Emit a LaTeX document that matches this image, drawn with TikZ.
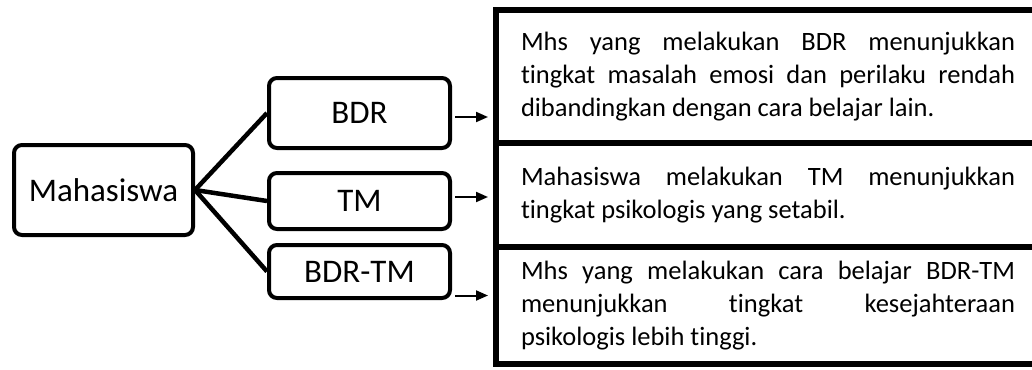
\documentclass[tikz,border=0pt]{standalone}
\usepackage{fontspec}
\setmainfont{Carlito}[Ligatures=NoCommon]
\usetikzlibrary{arrows.meta,positioning}
\tolerance=10000
\hyphenpenalty=10000
\exhyphenpenalty=10000

\begin{document}
\begin{tikzpicture}[x=1pt,y=-1pt,
  box/.style={draw,line width=4pt,rounded corners=8pt,minimum width=181pt,inner sep=0pt,font=\fontsize{33}{38}\selectfont},
  desc/.style={draw,line width=5.5pt,anchor=north west,outer sep=0pt,inner xsep=25pt,inner ysep=0pt,text width=494pt,align=justify,
    font=\fontsize{26.5}{33}\selectfont},
  link/.style={line width=4.5pt},
  arr/.style={-{Triangle[length=12pt,width=10pt]},line width=2pt,shorten >=8pt,shorten <=3pt}]
  \clip (0,0) rectangle (1032,369);
  % left side
  \node[box,minimum width=179pt,minimum height=90pt] (mhs) at (103.5,190) {Mahasiswa};
  \node[box,minimum height=70pt] (bdr) at (359.5,113) {BDR};
  \node[box,minimum height=56pt] (tm) at (359.5,201) {TM};
  \node[box,minimum height=53pt] (bdrtm) at (359.5,271.5) {BDR-TM};
  \draw[link] (mhs.east) -- (bdr.west);
  \draw[link] (mhs.east) -- (tm.west);
  \draw[link] (mhs.east) -- (bdrtm.west);
  % right side
  \node[desc,minimum height=133pt] (r1) at (496,10) {Mhs yang melakukan BDR menunjukkan\linebreak tingkat masalah emosi dan perilaku rendah\linebreak dibandingkan dengan cara belajar lain.};
  \node[desc,minimum height=104pt,below=0pt of r1] (r2) {Mahasiswa melakukan TM menunjukkan\linebreak tingkat psikologis yang setabil.};
  \node[desc,minimum height=117pt,below=0pt of r2] (r3) {Mhs yang melakukan cara belajar BDR-TM\linebreak menunjukkan tingkat kesejahteraan\linebreak psikologis lebih tinggi.};
  % arrows
  \coordinate (a1) at ([yshift=-4pt]bdr.east);
  \coordinate (a2) at ([yshift=4pt]tm.east);
  \coordinate (a3) at ([yshift=-24pt]bdrtm.east);
  \draw[arr] (a1) -- (a1 -| r1.west);
  \draw[arr] (a2) -- (a2 -| r2.west);
  \draw[arr] (a3) -- (a3 -| r3.west);
\end{tikzpicture}
\end{document}
